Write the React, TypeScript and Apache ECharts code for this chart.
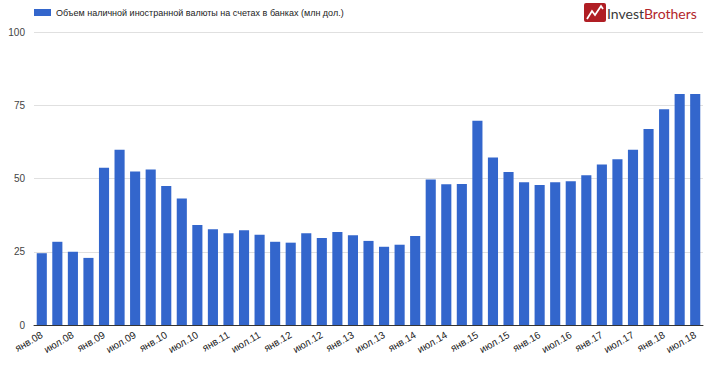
import React, { useEffect, useRef } from "react";
import * as echarts from "echarts";

const years = ["08", "09", "10", "11", "12", "13", "14", "15", "16", "17", "18"];
const quarterMonths = ["янв", "апр", "июл", "окт"];
const categories: string[] = [];
years.forEach((y) => quarterMonths.forEach((m) => categories.push(m + "." + y)));
categories.splice(43);

const values = [
  24.5, 28.4, 25.0, 22.9, 53.7, 59.8, 52.4, 53.1, 47.4, 43.2, 34.1, 32.7, 31.3, 32.3, 30.8,
  28.4, 28.1, 31.3, 29.7, 31.7, 30.6, 28.7, 26.7, 27.4, 30.4, 49.7, 48.0, 48.1, 69.7, 57.2,
  52.2, 48.7, 47.8, 48.7, 49.1, 51.1, 54.8, 56.6, 59.8, 66.9, 73.6, 78.8, 78.8,
];

const yTicks = [0, 25, 50, 75, 100];
const seriesName = "Объем наличной иностранной валюты на счетах в банках (млн дол.)";

export default function App() {
  const ref = useRef<HTMLDivElement>(null);
  useEffect(() => {
    document.body.style.margin = "0";
    if (!ref.current) return;
    const chart = echarts.init(ref.current, null, { renderer: "svg" });
    chart.setOption({
      animation: false,
      textStyle: { fontFamily: "Arial, Liberation Sans, sans-serif" },
      legend: {
        left: 34,
        top: 8,
        padding: 0,
        itemWidth: 17,
        itemHeight: 7,
        itemGap: 6,
        icon: "rect",
        textStyle: { fontSize: 9, color: "#222" },
        data: [seriesName],
      },
      grid: { left: 34, right: 10, top: 32, bottom: 54, containLabel: false },
      xAxis: {
        type: "category",
        data: categories,
        axisLine: { lineStyle: { color: "#333", width: 1 } },
        axisTick: { show: false },
        axisLabel: {
          interval: 1,
          rotate: 30,
          fontSize: 10,
          color: "#222",
          margin: 9,
        },
      },
      yAxis: {
        type: "value",
        min: 0,
        max: 100,
        interval: 25,
        axisLine: { show: false },
        axisTick: { show: false },
        splitLine: { lineStyle: { color: "#e0e0e0" } },
        axisLabel: {
          fontSize: 10,
          color: "#444",
          margin: 9,
          formatter: (v: number) => (yTicks.includes(v) ? String(v) : ""),
        },
      },
      series: [
        {
          name: seriesName,
          type: "bar",
          data: values,
          barCategoryGap: "35%",
          itemStyle: { color: "#3366cc" },
        },
      ],
      graphic: [
        {
          type: "group",
          left: 584,
          top: 3,
          children: [
            { type: "rect", shape: { x: 0, y: 0, width: 22, height: 19, r: 2 }, style: { fill: "#b01e24" } },
            {
              type: "polyline",
              shape: { points: [[3, 16], [8, 8], [11, 12], [17, 3], [19, 6]] },
              style: { stroke: "#fff", lineWidth: 1.8, fill: "none" },
            },
            {
              type: "text",
              style: {
                x: 23,
                y: 10,
                text: "{a|Invest}{b|Brothers}",
                verticalAlign: "middle",
                rich: {
                  a: { fontSize: 14, fill: "#3a3a3a", fontFamily: "Lato, sans-serif" },
                  b: { fontSize: 14, fill: "#b3262b", fontFamily: "Lato, sans-serif" },
                },
              },
            },
          ],
        },
      ],
    });
    return () => chart.dispose();
  }, []);
  return <div ref={ref} style={{ width: 713, height: 379 }} />;
}
